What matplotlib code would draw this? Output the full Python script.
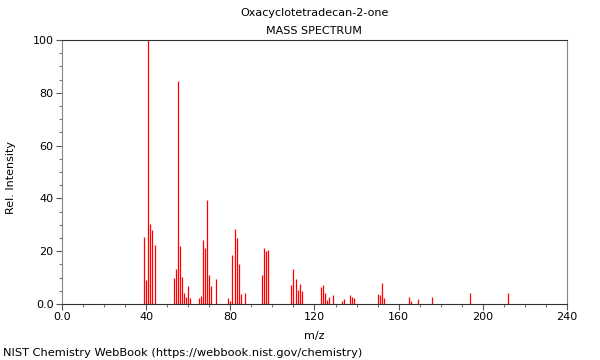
import matplotlib
matplotlib.use("Agg")
import matplotlib.pyplot as plt
from matplotlib.ticker import MultipleLocator, FixedLocator

TITLE = "Oxacyclotetradecan-2-one"
MZ = [39, 40, 41, 42, 43, 44,
      53, 54, 55, 56, 57, 58, 59, 60, 61,
      65, 66, 67, 68, 69, 70, 71, 73,
      79, 80, 81, 82, 83, 84, 85, 87,
      95, 96, 97, 98,
      109, 110, 111, 112, 113, 114,
      123, 124, 125, 126, 127, 129,
      133, 134, 137, 138, 139,
      150, 151, 152, 153,
      165, 166, 169, 176, 194, 212]
INTENSITY = [25.3, 9.2, 100, 30.2, 28.2, 22.2,
             9.7, 13.3, 84.3, 22.0, 10.3, 4.2, 2.6, 6.8, 2.3,
             2.3, 3.2, 24.2, 21.2, 39.4, 11.1, 6.8, 9.5,
             2.4, 1.2, 18.7, 28.3, 25.1, 15.2, 3.8, 4.3,
             11.1, 21.1, 20.1, 20.3,
             7.2, 13.1, 9.5, 5.2, 7.4, 5.0,
             6.6, 7.1, 4.1, 1.5, 2.8, 3.5,
             1.2, 2.0, 3.5, 2.6, 2.1,
             3.8, 3.3, 7.8, 2.1,
             2.6, 1.2, 1.7, 2.6, 4.2, 4.0]

X_TICKS = [0, 40, 80, 120, 160, 200, 240]
X_LABELS = ["0.0", "40", "80", "120", "160", "200", "240"]
Y_TICKS = [0, 20, 40, 60, 80, 100]
Y_LABELS = ["0.0", "20", "40", "60", "80", "100"]

# ── Figure ─────────────────────────────────────────────────────────────────
fig = plt.figure(figsize=(6, 3.6), dpi=100)
ax = fig.add_axes([0.1033, 0.1556, 0.8417, 0.7333])

ax.vlines(MZ, 0, INTENSITY, color="#ff0000", lw=0.9)

ax.set_xlim(0, 240)
ax.set_ylim(0, 100)
ax.xaxis.set_major_locator(FixedLocator(X_TICKS))
ax.set_xticklabels(X_LABELS)
ax.xaxis.set_minor_locator(MultipleLocator(10))
ax.yaxis.set_major_locator(FixedLocator(Y_TICKS))
ax.set_yticklabels(Y_LABELS)
ax.yaxis.set_minor_locator(MultipleLocator(5))

ax.tick_params(which="major", length=4, width=0.8, color="#555555", labelsize=8, pad=2)
ax.tick_params(which="minor", length=2.5, width=0.8, color="#777777")

for side in ("left", "right"):
    ax.spines[side].set_color("#888888")
ax.spines["top"].set_color("#333333")
ax.spines["bottom"].set_color("#333333")

ax.set_xlabel("m/z", fontsize=8)
ax.set_ylabel("Rel. Intensity", fontsize=8)
ax.xaxis.set_label_coords(0.5, -0.102)
ax.yaxis.set_label_coords(-0.092, 0.48)

fig.text(0.524, 0.963, TITLE, ha="center", va="center", fontsize=8)
fig.text(0.524, 0.915, "MASS SPECTRUM", ha="center", va="center", fontsize=8)
fig.text(0.005, 0.02, "NIST Chemistry WebBook (https://webbook.nist.gov/chemistry)",
         ha="left", va="center", fontsize=8.2)

fig.savefig("out.png", dpi=100)
